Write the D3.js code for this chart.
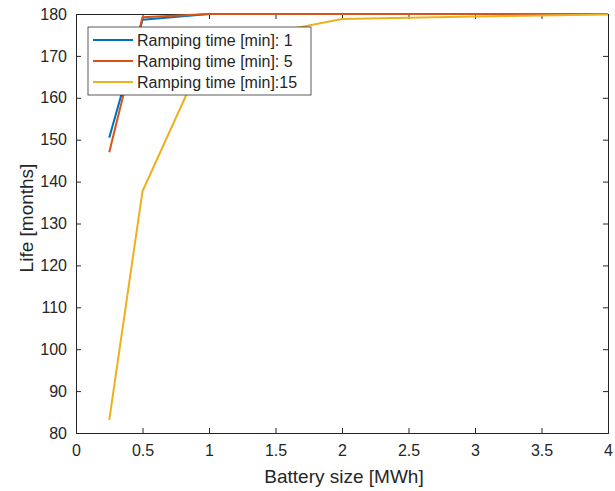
<!DOCTYPE html>
<html>
<head>
<meta charset="utf-8">
<script src="https://cdn.jsdelivr.net/npm/d3@7"></script>
<style>
  body { margin: 0; background: #fff; }
  text { font-family: "Liberation Sans", Arial, sans-serif; fill: #262626; }
</style>
</head>
<body>
<svg id="chart"></svg>
<script>
// battery sizes in MWh
const batterySize = [0.25, 0.5, 1, 2, 3, 4];
const life1 = [150.5, 178.6, 180, 180, 180, 180];
const life5 = [147, 179.2, 180, 180, 180, 180];
const life15 = [83.1, 137.7, 172.6, 178.8, 179.4, 179.9];
const seriesNames = ["Ramping time [min]: 1", "Ramping time [min]: 5", "Ramping time [min]:15"];
const seriesColors = ["#0072BD", "#D95319", "#EDB120"];
const xTicks = [0, 0.5, 1, 1.5, 2, 2.5, 3, 3.5, 4];
const yTicks = [80, 90, 100, 110, 120, 130, 140, 150, 160, 170, 180];

const width = 615, height = 491;
const marginLeft = 76, marginRight = 7, marginTop = 14, marginBottom = 58;

const svg = d3.select("#chart")
  .attr("width", width)
  .attr("height", height)
  .attr("viewBox", [0, 0, width, height]);

const x = d3.scaleLinear().domain([0, 4]).range([marginLeft, width - marginRight]);
const y = d3.scaleLinear().domain([80, 180]).range([height - marginBottom, marginTop]);

// axes (ticks point inward, MATLAB style)
const axisColor = "#262626";
svg.append("g")
  .attr("transform", `translate(0,${y(80)})`)
  .call(d3.axisBottom(x).tickValues(xTicks).tickSize(-5).tickPadding(12).tickFormat(d3.format("~g")));
svg.append("g")
  .attr("transform", `translate(${x(0)},0)`)
  .call(d3.axisLeft(y).tickValues(yTicks).tickSize(-5).tickPadding(9));
svg.append("g")
  .attr("transform", `translate(0,${y(180)})`)
  .call(d3.axisTop(x).tickValues(xTicks).tickSize(-5).tickFormat(""));
svg.append("g")
  .attr("transform", `translate(${x(4)},0)`)
  .call(d3.axisRight(y).tickValues(yTicks).tickSize(-5).tickFormat(""));

svg.selectAll(".domain, .tick line").attr("stroke", axisColor);
svg.selectAll(".tick text").attr("font-size", 16).style("fill", axisColor)
  .attr("font-family", "Liberation Sans, Arial, sans-serif");

// series lines
const allSeries = [life1, life5, life15];
const line = d3.line()
  .x((d, i) => x(batterySize[i]))
  .y(d => y(d));

svg.append("g")
  .selectAll("path")
  .data(allSeries)
  .join("path")
  .attr("fill", "none")
  .attr("stroke", (d, i) => seriesColors[i])
  .attr("stroke-width", 2)
  .attr("stroke-linejoin", "round")
  .attr("d", line);

// axis labels
svg.append("text")
  .attr("x", 344)
  .attr("y", 483)
  .attr("text-anchor", "middle")
  .attr("font-size", 19)
  .text("Battery size [MWh]");

svg.append("text")
  .attr("transform", "translate(33,218) rotate(-90)")
  .attr("text-anchor", "middle")
  .attr("font-size", 19)
  .text("Life [months]");

// legend
const legend = svg.append("g").attr("transform", "translate(88,27)");
legend.append("rect")
  .attr("width", 223)
  .attr("height", 68)
  .attr("fill", "#fff")
  .attr("stroke", axisColor)
  .attr("stroke-width", 0.75);

const rows = legend.selectAll(".row")
  .data(seriesNames)
  .join("g")
  .attr("class", "row")
  .attr("transform", (d, i) => `translate(0,${13 + i * 21})`);
rows.append("line")
  .attr("x1", 5).attr("x2", 45)
  .attr("stroke", (d, i) => seriesColors[i])
  .attr("stroke-width", 2);
rows.append("text")
  .attr("x", 49)
  .attr("dy", "0.35em")
  .attr("font-size", 16)
  .text(d => d);
</script>
</body>
</html>
